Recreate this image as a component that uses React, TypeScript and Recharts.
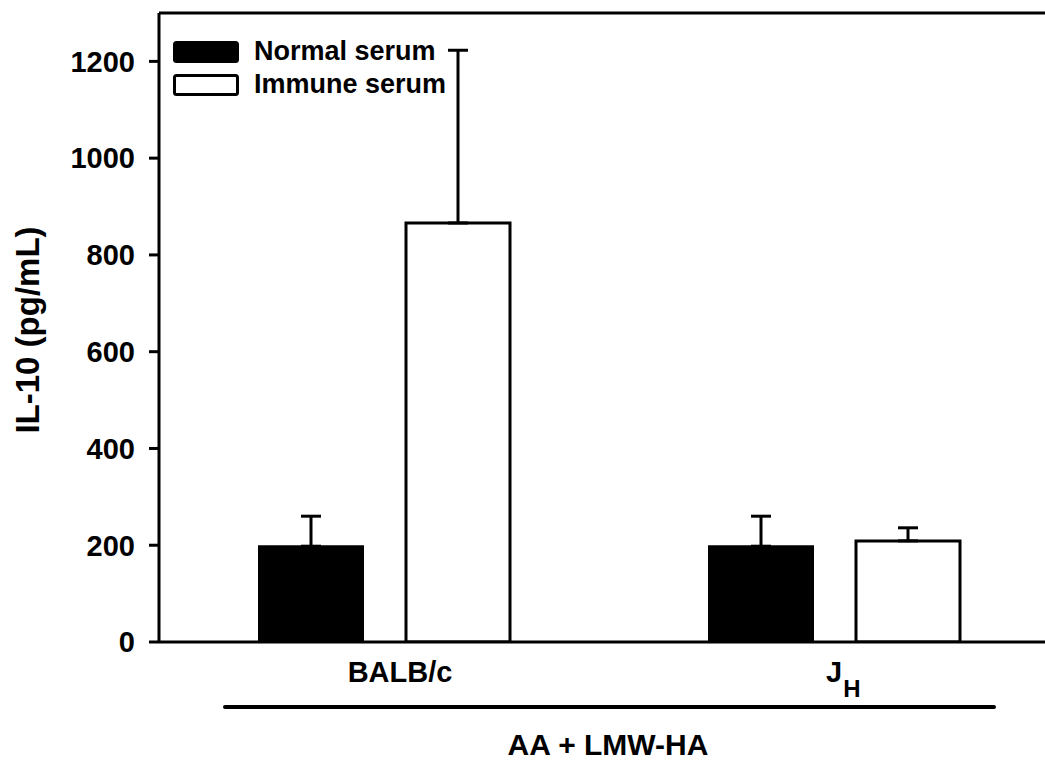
import React from 'react';
import { BarChart, Bar, XAxis, YAxis, ErrorBar, ReferenceLine } from 'recharts';

const groups = ['BALB/c', 'JH'];
const normalMean = [198, 198];
const normalSem = [62, 62];
const immuneMean = [866, 209];
const immuneSem = [357, 27];
const yTicks = [0, 200, 400, 600, 800, 1000, 1200];
const legendItems = [
  { label: 'Normal serum', fill: '#000' },
  { label: 'Immune serum', fill: '#fff' },
];

const FONT = '"Liberation Sans", Arial, sans-serif';

// error bars only go up, so lower bound is 0
const data = groups.map((g, i) => ({
  group: g,
  normal: normalMean[i],
  normalErr: [0, normalSem[i]],
  immune: immuneMean[i],
  immuneErr: [0, immuneSem[i]],
}));

const XTick = ({ x, y, payload }: any) => {
  if (payload.value === 'JH') {
    return (
      <text x={x - 8} y={y + 40} fontFamily={FONT} fontWeight="bold" fontSize={29} fill="#000">
        J
        <tspan dx={1} dy={15} fontSize={24}>H</tspan>
      </text>
    );
  }
  return (
    <text x={x + 16} y={y + 40} textAnchor="middle" fontFamily={FONT} fontWeight="bold" fontSize={29} fill="#000">
      {payload.value}
    </text>
  );
};

const YLabel = () => (
  <text
    x={39}
    y={330}
    transform="rotate(-90, 39, 330)"
    textAnchor="middle"
    fontFamily={FONT}
    fontWeight="bold"
    fontSize={33}
    fill="#000"
  >
    IL-10 (pg/mL)
  </text>
);

const XGroupLabel = () => (
  <g>
    <line x1={225} x2={994} y1={707} y2={707} stroke="#000" strokeWidth={4} strokeLinecap="round" />
    <text x={608} y={755} textAnchor="middle" fontFamily={FONT} fontWeight="bold" fontSize={30} fill="#000">
      AA + LMW-HA
    </text>
  </g>
);

export default function App() {
  return (
    <div style={{ position: 'absolute', left: 0, top: 0, width: 1045, height: 760, overflow: 'hidden', background: '#fff' }}>
      <BarChart
        width={1100}
        height={760}
        data={data}
        margin={{ top: 13, right: 41, bottom: 78, left: 0 }}
        barSize={104}
        barGap={43}
      >
        <XAxis
          dataKey="group"
          height={40}
          axisLine={{ stroke: '#000', strokeWidth: 3 }}
          tickLine={false}
          tickSize={0}
          tickMargin={0}
          tick={<XTick />}
          interval={0}
          label={{ content: <XGroupLabel /> }}
        />
        <YAxis
          width={159}
          domain={[0, 1300]}
          ticks={yTicks}
          allowDataOverflow
          axisLine={{ stroke: '#000', strokeWidth: 3 }}
          tickLine={{ stroke: '#000', strokeWidth: 3 }}
          tickSize={10}
          tickMargin={14}
          tick={{ fill: '#000', fontFamily: FONT, fontWeight: 'bold', fontSize: 29 }}
          label={{ content: <YLabel /> }}
        />
        <ReferenceLine y={1300} stroke="#000" strokeWidth={3} />
        <Bar dataKey="normal" name="Normal serum" fill="#000" stroke="#000" strokeWidth={2} isAnimationActive={false}>
          <ErrorBar dataKey="normalErr" width={10} stroke="#000" strokeWidth={3} direction="y" />
        </Bar>
        <Bar dataKey="immune" name="Immune serum" fill="#fff" stroke="#000" strokeWidth={3} isAnimationActive={false}>
          <ErrorBar dataKey="immuneErr" width={10} stroke="#000" strokeWidth={3} direction="y" />
        </Bar>
      </BarChart>
      <div
        style={{
          position: 'absolute',
          left: 173,
          top: 35,
          fontFamily: FONT,
          fontWeight: 'bold',
          fontSize: 27,
          color: '#000',
        }}
      >
        {legendItems.map((item) => (
          <div key={item.label} style={{ display: 'flex', alignItems: 'center', height: 33 }}>
            <svg width={66} height={22} style={{ marginRight: 15 }}>
              <rect x={1.5} y={1.5} width={63} height={19} rx={2} fill={item.fill} stroke="#000" strokeWidth={3} />
            </svg>
            <span>{item.label}</span>
          </div>
        ))}
      </div>
    </div>
  );
}
